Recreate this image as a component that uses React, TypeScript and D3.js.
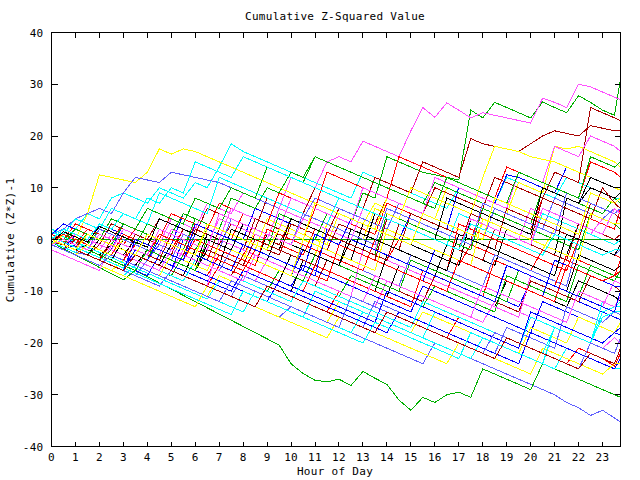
import React from "react";
import * as d3 from "d3";

// sample times (hours)
const HOURS: number[] = [...d3.range(0, 24, 0.5), 23.75];
const X_TICKS: number[] = d3.range(0, 24);
const Y_TICKS: number[] = [-40, -30, -20, -10, 0, 10, 20, 30, 40];
const TITLE = "Cumulative Z-Squared Value";
const X_LABEL = "Hour of Day";
const Y_LABEL = "Cumulative (Z*Z)-1";

// cumulative (Z*Z)-1 per run, one value per sample time
const S00 = [0.5, -0.5, 1, 0, -1, 3, 2, 1, 0, -1, -2, 2, 1, 0, -1, -2, -3, 1, 0, -1, -2, -3, 2, 1, 0, -1, -2, -3, -4, 0, -1, -2, -3, -4, -5, -1, -2, -3, -4, -5, -6, -2, -3, -4, -5, -6, -7, -8, -8.5];
const S01 = [1, 0, -1, 1, 0, -1, -2, -3, -4, 1, 0, -1, -2, 2, 1, 0, -1, -2, 4, 3, 2, 1, 0, 5, 4, 3, 9, 8, 16, 15, 14, 13, 12.5, 12, 11.5, 25, 23.5, 26.5, 25.5, 24.5, 23.5, 26.6, 25.5, 24.5, 27.8, 26.5, 25, 24, 31];
const S02 = [2, 1, 0, -1, 3, 2, 1, 0, -1, -2, -3, -4, 1, 0, -1, -2, -3, -4, -5, -6, -7, -2, -3, -4, -5, -6, -7, -8, -9, -10, -4, -5, -6, -7, -8, -9, -10, -11, -12, -13, -8, -9, -10, -11, -12, -13, -14, -15, -15.5];
const S03 = [0, 2, 1, 0, -1, 3, 2, 1, 0, -1, 4, 3, 2, 7, 6, 5, 9, 8, 7, 6, 12, 11, 10, 15, 16, 15, 19, 18, 17, 16, 21, 25.5, 23.6, 26.4, 25, 23.5, 24.5, 24, 23.5, 23, 22.5, 27.3, 26.5, 25.5, 30, 29.5, 28.5, 27.5, 27];
const S04 = [1, 3, 2, 5, 4, 8, 9, 8, 7, 10, 9, 8, 11, 10, 14, 18.5, 17, 16, 15, 14, 13, 12, 11, 10, 9, 8, 13, 12, 11, 10, 9, 8, 7, 6, 10, 9, 8, 7, 12, 11, 10, 9, 8, 12, 11, 10, 9, 8, 8];
const S05 = [-0.5, -1, 0, -1, -2, -3, 1, 0, -1, -2, -3, 2, 1, 0, -1, 3, 2, 1, 0, -1, 4, 3, 2, 1, 6, 5, 4, 3, 8, 7, 6, 5, 10, 9, 8, 7, 6, 12, 11, 10, 9, 8, 13, 12, 11, 25.5, 24.5, 23.5, 23];
const S06 = [2, 1, 0, 5, 12.5, 12, 11.5, 11, 13, 17.5, 16.5, 17.5, 17, 16, 15, 14, 13, 12, 11, 10, 9, 8, 7, 6, 5, 4, 3, 7, 6, 5, 4, 3, 2, 1, 0, -1, 3, 2, 1, 0, -1, -2, 2, 1, 0, -1, -2, -3, -3.5];
const S07 = [0, -1, -2, -1, -2, -3, -4, -5, -2, -3, -4, -5, -6, -2, -3, -4, -5, -6, -7, -8, -3, -4, -5, -6, -7, -8, -9, -10, -11, -5, -6, -7, -8, -9, -10, -11, -12, -13, -8, -9, -10, -11, -12, -13, -8, -9, -10, -11, -12];
const S08 = [-0.5, -1.5, -2.5, -3, -4, -5, -6, -7, -8, -9, -6, -7, -8, -9, -10, -11, -12, -13, -14, -15, -13, -14, -15, -16, -17, -18, -19, -20, -21, -22, -23, -24, -20, -21, -22, -23, -24, -25, -26, -27, -28, -29, -30, -31.5, -32.5, -34, -33, -34.5, -35.3];
const S09 = [1, 0, 3, 2, 1, 0, -1, 2, 1, 0, -1, -2, 3, 2, 1, 0, 5, 4, 3, 2, 1, 0, 6, 5, 4, 3, 2, 1, 7, 6, 5, 4, 3, 2, 1, 0, 6, 5, 4, 3, 2, 8, 7, 6, 5, 4, 3, 2, 6];
const S10 = [-0.5, -1.8, -3, -4.2, -5.4, -6.6, -7.8, -6, -7.2, -8.4, -9.6, -10.8, -12, -13.2, -14.4, -15.6, -16.8, -18, -19.2, -20.4, -24, -25.9, -27.2, -27.5, -27, -28.2, -25.5, -26.8, -28, -31, -33, -30.5, -31.5, -30, -29.5, -30.5, -25, -26, -27, -28, -29, -24, -25, -26, -27, -28, -29, -30, -30.5];
const S11 = [-1, -2, 1, 0, -1, -2, 3, 2, 1, 0, -1, 5, 4, 3, 2, 1, 0, 6, 5, 4, 3, 2, 1, 0, -1, 4, 3, 2, 1, 0, 5, 4, 3, 2, 10, 9, 8, 7, 12.5, 12, 11, 10, 9, 14, 13, 12, 11, 10, 10];
const S12 = [0, -1, -2, -3, 0, -1, -2, -3, -4, -5, -6, -2, -3, -4, -5, -6, -7, -8, -4, -5, -6, -7, -8, -9, -10, -11, -12, -13, -8, -9, -10, -11, -12, -13, -14, -15, -16, -12, -13, -14, -15, -16, -17, -18, -19, -20, -21, -19, -20];
const S13 = [-1, -2, -3, -4, -5, -6, -7, -5, -6, -7, -8, -9, -10, -11, -12, -13, -14, -10, -11, -12, -13, -14, -15, -16, -17, -18, -14, -15, -16, -17, -18, -19, -20, -21, -22, -23, -19, -20, -21, -22, -23, -24, -25, -21, -22, -23, -24, -25, -25];
const S14 = [1, 2, 1, 0, -1, 3, 2, 1, 0, 4, 3, 2, 1, 6, 5, 4, 3, 2, 8, 7, 6, 5, 10, 9, 8, 7, 6, 12, 11, 10, 9, 15, 14, 13, 12, 19.5, 18.5, 18, 17.5, 17, 18.5, 20, 21, 20.5, 20, 22, 21.5, 21, 21];
const S15 = [0, -1, -2, 1, 0, -1, -2, -3, -4, 0, -1, -2, -3, 2, 1, 0, -1, -2, 4, 3, 2, 1, 0, -1, 5, 4, 3, 2, 8, 7, 6, 5, 4, 10, 9, 8, 7, 6, 5, 11, 10, 9, 18, 17.5, 18, 17, 16, 15, 14];
const S16 = [-1, 0, -1, -2, -3, -4, 0, -1, -2, -3, -4, -5, -6, -1, -2, -3, -4, -5, 1, 0, -1, -2, -3, -4, -5, 0, -1, -2, -3, -4, -5, -6, -7, -1, -2, -3, -4, -5, 2, 1, 0, -1, -2, -3, 3, 2, 1, 0, -0.5];
const S17 = [1, 2, 4, 5, 6, 5, 9, 12, 11.5, 11, 13, 12.5, 12, 11.5, 11, 10, 9, 8, 7, 6, 5, 4, 8, 7, 6, 5, 4, 3, 2, 7, 6, 5, 4, 3, 2, 1, 0, 6, 5, 4, 3, 2, 8, 7, 6, 5, 4, 6, 5];
const S18 = [0.5, -0.5, -1.5, -2.5, -3.5, -1, -2, -3, -4, -5, -6, -7, -8, -9, -5, -6, -7, -8, -9, -10, -11, -12, -13, -14, -10, -11, -12, -13, -14, -15, -16, -17, -18, -19, -15, -16, -17, -18, -19, -20, -21, -22, -23, -24, -21, -22, -23, -24.5, -22];
const S19 = [0, 1, 0, -1, 2, 1, 0, -1, 3, 2, 1, 5, 4, 3, 2, 8, 7, 6, 10, 9, 13, 12, 16, 15, 14, 13, 12, 11, 10, 9, 8, 7, 11, 10, 9, 8, 7, 6, 5, 4, 3, 10, 9, 8, 7, 6, 5, 8, 7];
const S20 = [-1, -2, -1, -2, -3, -4, -5, -3, -4, -5, -6, 0, -1, -2, -3, -4, -5, -6, -7, -8, -9, -5, -6, -7, -8, -9, -10, -11, -12, -13, -14, -9, -10, -11, -12, -13, -14, -15, -16, -17, -18, -12, -13, -14, -15, -16, -17, -18, -18.5];
const S21 = [-0.5, 1, 0, -1, -2, 1, 0, -1, -2, -3, 2, 1, 0, -1, 4, 3, 2, 1, 0, 6, 5, 4, 3, 2, 1, 0, -1, -2, 4, 3, 2, 1, 0, -1, 5, 4, 3, 2, 1, 0, 6, 5, 4, 3, 2, 1, 4, 3, 3];
const S22 = [2, 1, 4, 3, 2, 6, 5, 4, 3, 9, 8, 7, 6, 5, 12, 11, 10, 9, 8, 7, 6, 5, 4, 3, 8, 7, 6, 5, 4, 3, 2, 1, 0, -1, 5, 4, 3, 2, 1, 0, -1, 5, 4, 3, 2, 1, 0, -1, 0];
const S23 = [0, -1, -2, -3, -1, -2, -3, -4, -5, -6, -2, -3, -4, -5, -6, -7, -3, -4, -5, -6, -7, -8, -9, -4, -5, -6, -7, -8, -9, -10, -11, -12, -7, -8, -9, -10, -11, -12, -13, -14, -8, -9, -10, -11, -12, -7, -8, -9, -10];
const S24 = [-1, -2, -3, -4, -5, -6, -4, -5, -6, -7, -8, -9, -10, -11, -7, -8, -9, -10, -11, -12, -13, -14, -15, -16, -12, -13, -14, -15, -16, -17, -18, -14, -15, -16, -17, -18, -19, -20, -21, -22, -17, -18, -19, -20, -15, -16, -17, -18, -16];
const S25 = [1, 0, -1, -2, -3, -1, -2, -3, -4, -5, -6, -7, -2, -3, -4, -5, -6, -7, -8, -9, -10, -4, -5, -6, -7, -8, -9, -10, -3, -4, -5, -6, -7, -8, -9, -10, -11, -12, -5, -6, -7, -8, -9, -10, -3, -4, -5, -6, -5];
const S26 = [0, -1, -2, -3, -4, -5, -6, -7, -4, -5, -6, -7, -8, -9, -10, -11, -7, -8, -9, -10, -11, -12, -13, -14, -15, -16, -17, -12, -13, -14, -15, -16, -17, -18, -19, -20, -21, -22, -17, -18, -19, -20, -21, -13, -14, -15, -16, -14, -14.5];
const S27 = [-1, 0, -1, 2, 1, 0, 3, 2, 1, 0, 5, 4, 3, 2, 7, 6, 5, 4, 3, 9, 8, 7, 6, 13, 12, 11, 10, 9, 8, 16, 15, 14, 13, 12, 11, 10, 9, 8, 14, 13, 12, 11, 10, 9, 8, 15, 14, 13, 12];
const S28 = [0, -1, -2, -3, -4, -2, -3, -4, -5, -6, -7, -3, -4, -5, -6, -7, -8, -9, -10, -6, -7, -8, -9, -10, -11, -7, -8, -9, -10, -11, -12, -13, -9, -10, -11, -12, -13, -14, -7, -8, -9, -10, -11, -12, -5, -6, -7, -8, -6];
const S29 = [0.5, -0.5, -1.5, -2.5, -3.5, -4.5, -5.5, -2, -3, -4, -5, -6, -7, -8, -9, -10, -6, -7, -8, -9, -10, -11, -12, -13, -14, -15, -16, -17, -18, -14, -15, -16, -17, -18, -19, -20, -21, -22, -23, -24, -18, -19, -20, -21, -22, -23, -24, -25, -23];
const S30 = [0, 2, 1, 0, -1, -2, 2, 1, 0, -1, 4, 3, 2, 1, 0, 6, 5, 4, 3, 2, 8, 7, 6, 5, 4, 3, 10, 9, 8, 7, 6, 5, 12, 11, 10, 9, 8, 7, 6, 13, 12, 11, 18, 17, 16, 20, 19, 18, 17];
const S31 = [1.5, 0.5, -0.5, -1.5, -2.5, -3.5, -4.5, -5.5, -6.5, -7.5, -8.5, -9.5, -10.5, -11.5, -8, -9, -10, -11, -12, -13, -14, -15, -10, -11, -12, -13, -14, -15, -16, -17, -18, -19, -14, -15, -16, -17, -18, -19, -20, -21, -15, -16, -17, -18, -19, -20, -12, -13, -12];
const S32 = [-1, -2, 0, -1, -2, -3, -4, 1, 0, -1, -2, -3, 2, 1, 0, -1, -2, 4, 3, 2, 1, 0, -1, -2, 3, 2, 1, 0, -1, -2, 5, 4, 3, 2, 1, 0, -1, -2, 6, 5, 4, 3, 2, 1, 0, 7, 6, 5, 4];
const S33 = [-1, -2, -3, -4, -5, -6, -7, -8, -9, -10, -11, -12, -13, -9, -10, -11, -12, -13, -14, -15, -16, -17, -18, -19, -15, -16, -17, -18, -19, -20, -21, -22, -23, -24, -20, -21, -22, -23, -24, -25, -26, -21, -22, -23, -24, -25, -26, -24, -24];
const S34 = [0, -1, 1, 0, -1, -2, -3, 0, -1, -2, -3, -4, -5, 1, 0, -1, -2, -3, -4, 2, 1, 0, -1, -2, -3, -4, 3, 2, 1, 0, -1, -2, -3, -4, -5, 4, 3, 2, 1, 0, -1, -2, -3, 8, 7, 10, 9, 8, 9];
const S35 = [0, -1, -2, 1, 0, -1, -2, -3, -4, -1, -2, -3, -4, -5, -6, -2, -3, -4, -5, -6, -7, -1, -2, -3, -4, -5, -6, -7, -8, -9, -3, -4, -5, -6, -7, -8, -9, -3, -4, -5, -6, -7, -8, -9, 0, -1, -2, -3, -2];
const S36 = [-0.5, 1, 0, -1, -2, -3, -4, -1, -2, -3, -4, -5, -6, -7, -3, -4, -5, -6, -7, -8, -9, -10, -5, -6, -7, -8, -9, -10, -11, -12, -13, -6, -7, -8, -9, -10, -11, -4, -5, -6, -7, -8, -9, -3, -4, -5, -6, -7, -4];
const S37 = [1, 0, 2, 1, 0, -1, 3, 2, 1, 0, -1, -2, 4, 3, 2, 1, 0, -1, -2, 5, 4, 3, 2, 1, 0, -1, -2, -3, 5, 4, 3, 2, 1, 0, -1, -2, 6, 5, 4, 3, 2, 1, 0, -1, -2, 5, 4, 3, 2];
const S38 = [1, 0, -1, -2, -3, -4, -5, -6, -7, -3, -4, -5, -6, -7, -8, -9, -10, -11, -12, -8, -9, -10, -11, -12, -13, -14, -15, -16, -10, -11, -12, -13, -14, -15, -16, -17, -18, -19, -20, -21, -14, -15, -16, -17, -18, -19, -20, -18, -17];
const S39 = [-2, -3, -4, -5, -6, -1, -2, -3, -4, -5, -6, -7, -8, -9, 0, -1, -2, -3, -4, -5, -6, -7, -8, -9, -10, -11, -2, -3, -4, -5, -6, -7, -8, -9, -10, -11, -12, -13, -14, -15, -7, -8, -9, -10, -11, -12, -13, -8, -8.5];
const S40 = [-0.5, -1.5, -2.5, 0, -1, -2, -3, -4, -5, -6, -7, -8, -4, -5, -6, -7, -8, -9, -10, -11, -12, -8, -9, -10, -11, -12, -13, -14, -15, -16, -17, -12, -13, -14, -15, -16, -17, -18, -19, -20, -21, -22, -17, -18, -19, -20, -14, -13, -13];
const S41 = [0.5, -0.5, -1.5, 1, 0, -1, -2, -3, 1, 0, -1, -2, -3, -4, 2, 1, 0, -1, -2, -3, 3, 2, 1, 0, -1, -2, -3, -4, 4, 3, 2, 1, 0, -1, -2, 5, 4, 3, 2, 1, 0, 8, 7, 6, 5, 4, 10, 7, 6];
const S42 = [-1, 1, 0, -1, -2, -3, 0, -1, -2, -3, -4, 1, 0, -1, -2, -3, -4, 2, 1, 0, -1, -2, -3, 3, 2, 1, 0, 6, 5, 4, 10, 9, 8, 7, 6, 5, 12, 18, 17.5, 17, 16, 15.5, 15, 14, 13, 12, 11, 10, 9.5];
const S43 = [0, -1, -2, -3, 0, -1, -2, -3, -4, -5, -1, -2, -3, -4, -5, 2, 1, 0, -1, -2, 4, 3, 2, 1, 0, -1, -2, 5, 4, 3, 2, 1, 0, 8, 7, 6, 5, 4, 3, 2, 1, 10, 9, 8, 7, 12, 11, 10, 10];
const S44 = [1, 0, -1, -2, 2, 1, 0, -1, -2, -3, -4, 1, 0, -1, -2, 4, 3, 2, 1, 0, -1, 5, 4, 3, 2, 1, 0, -1, 6, 5, 4, 3, 2, 1, 0, -1, 7, 6, 5, 4, 3, 2, 1, 9, 8, 7, 6, 5, 6];
const S45 = [0, 1, 0, -1, -2, -3, 1, 0, -1, -2, -3, -4, 0, -1, -2, -3, -4, -5, 2, 1, 0, -1, -2, -3, -4, -5, -6, 0, -1, -2, -3, -4, -5, -6, 3, 2, 1, 0, -1, -2, -3, -4, -5, -6, 0, -1, -2, -3, -3.5];
const S46 = [-1, 0, -1, -2, -3, -4, -5, -6, -2, -3, -4, -5, -6, 0, -1, -2, -3, -4, -5, -6, -7, -8, -3, -4, -5, -6, -7, -8, -9, -10, -4, -5, -6, -7, -8, -9, -10, -11, -12, -6, -7, -8, -9, -10, -11, -5, -6, -7, -7.5];
const S47 = [1, 3, 2, 1, 0, -1, -2, -3, -4, 0, -1, -2, -3, -4, -5, -6, -1, -2, -3, -4, -5, -6, 1, 0, -1, -2, -3, -4, -5, -6, -7, -8, -2, -3, -4, -5, -6, -7, -8, -9, -10, -11, -4, -5, -6, -7, -8, -9, -9];
const S48 = [0, -1, 1, 0, -1, -2, -3, -4, -5, -6, -2, -3, -4, -5, -6, -7, -8, -3, -4, -5, -6, -7, -8, -9, -10, -11, -12, -7, -8, -9, -10, -11, -12, -13, -14, -15, -9, -10, -11, -12, -13, -14, -15, -16, -10, -11, -12, -13, -11];
const S49 = [0.5, -0.5, -1.5, -2.5, -3.5, -4.5, -5.5, -6.5, -7.5, -8.5, -9.5, -10.5, -11.5, -12.5, -13.5, -14.5, -10, -11, -12, -13, -14, -15, -16, -17, -18, -19, -20, -16, -17, -18, -19, -20, -21, -22, -23, -18, -19, -20, -21, -22, -23, -24, -17, -18, -19, -20, -15, -14, -14];
const S50 = [0, -1, -2, -3, -4, 0, -1, -2, -3, -4, 1, 0, -1, -2, -3, -4, -5, 0, -1, -2, -3, -4, -5, 1, 0, -1, -2, -3, -4, 3, 2, 1, 0, -1, -2, -3, -4, 2, 1, 0, -1, -2, -3, -4, 3, 2, 1, 0, 1];
const S51 = [-1, -2, -3, -1, -2, -3, -4, -5, -6, -7, -3, -4, -5, -6, -1, -2, -3, -4, -5, -6, -7, 0, -1, -2, -3, -4, -5, -6, 2, 1, 0, -1, -2, -3, -4, -5, 4, 3, 2, 1, 0, -1, -2, -3, -4, 5, 4, 3, 3];
const S52 = [-0.5, 1.5, 0.5, -0.5, 2.5, 1.5, 0.5, -0.5, -1.5, 4, 3, 2, 1, 0, -1, -2, 3, 2, 1, 0, -1, -2, -3, -4, -5, 2, 1, 0, -1, -2, -3, -4, -5, -6, 1, 0, -1, -2, -3, -4, -5, -6, -7, 1, 0, -1, -2, -3, -1];
const S53 = [-1, -2, -3, -4, -5, -3, -4, -5, -6, -7, -8, -9, -10, -11, -12, -8, -9, -10, -11, -12, -13, -14, -15, -16, -17, -11, -12, -13, -14, -15, -16, -17, -18, -19, -20, -21, -22, -18, -19, -20, -21, -22, -23, -24, -25, -20, -21, -22, -19];
const S54 = [1, 0, -1, 2, 1, 0, -1, -2, -3, 1, 0, -1, -2, -3, -4, -5, -6, -2, -3, -4, -5, -6, -7, -8, -1, -2, -3, -4, -5, -6, -7, -8, -9, -10, -4, -5, -6, -7, -8, -9, -10, -11, -12, -5, -6, -7, -8, -7, -6];
const S55 = [0, -1, 2, 1, 0, 4, 3, 2, 6, 5, 4, 3, 8, 7, 6, 10, 9, 8, 14, 13, 12, 11, 16, 15, 14, 13, 12, 11, 10, 9, 8, 7, 6, 12, 11, 10, 9, 8, 7, 13, 12, 11, 10, 9, 8, 16, 15, 14, 15];
const S56 = [0, -1, -2, -3, -4, -5, -6, 0, -1, -2, -3, -4, 3, 2, 1, 0, -1, -2, -3, -4, -5, -6, -7, 2, 1, 0, -1, -2, -3, -4, -5, -6, -7, -8, -9, -10, -11, -12, -5, -6, -7, -8, -9, -10, -11, -12, -13, -14, -10];
const S57 = [-1, 0, -1, -2, 1, 0, -1, -2, -3, 2, 1, 0, -1, -2, 5, 4, 3, 2, 1, 0, -1, 4, 3, 2, 1, 0, 6, 5, 4, 3, 2, 1, 0, -1, -2, 4, 3, 2, 1, 0, -1, 6, 5, 4, 3, 2, 1, 6, 5];
const S58 = [0, 2, 1, 0, 3, 2, 5, 4, 8, 7, 10, 9, 15, 14, 13, 12, 16, 15, 14, 13, 12, 11, 10, 9, 8, 7, 6, 5, 4, 3, 2, 1, 0, -1, -2, 3, 2, 1, 0, -1, -2, -3, 1, 0, -1, -2, -3, -2, -2];
const S59 = [0, -1, -2, -3, -4, -5, -6, -3, -4, -5, -6, -7, -8, -9, -10, -11, -12, -13, -9, -10, -11, -12, -13, -14, -15, -16, -17, -18, -14, -15, -16, -17, -18, -19, -20, -21, -22, -23, -19, -20, -21, -22, -23, -24, -25, -22, -23, -24, -21];
const S60 = [0, -1, -2, 1, 0, -1, -2, -3, 1, 0, -1, -2, -3, 3, 2, 1, 0, -1, -2, 2, 1, 0, 7, 6, 5, 4, 3, 2, 1, 0, -1, 5, 4, 3, 2, 1, 0, 8, 7, 6, 5, 4, 3, 2, 1, 9, 8, 7, 8];

const SERIES: number[][] = [
  S00, S01, S02, S03, S04, S05, S06, S07, S08, S09,
  S10, S11, S12, S13, S14, S15, S16, S17, S18, S19,
  S20, S21, S22, S23, S24, S25, S26, S27, S28, S29,
  S30, S31, S32, S33, S34, S35, S36, S37, S38, S39,
  S40, S41, S42, S43, S44, S45, S46, S47, S48, S49,
  S50, S51, S52, S53, S54, S55, S56, S57, S58, S59,
  S60,
];
const ZERO_LINE = [0, 0];

const PALETTE = ["#ff0000", "#00b000", "#0000ff", "#ff50ff", "#00ffff", "#a80000", "#ffff00", "#000000", "#6060ff"];

export default function App() {
  const W = 640;
  const H = 480;
  const x = d3.scaleLinear().domain([0, 23.75]).range([51.5, 620.5]);
  const y = d3.scaleLinear().domain([-40, 40]).range([446.5, 32.5]);
  const line = d3
    .line<number>()
    .x((_, i) => x(HOURS[i]))
    .y((d) => y(d));
  const font = "'DejaVu Sans Mono', monospace";
  const [x0, x1] = x.range();
  const [yb, yt] = y.range();
  const split = 30;

  return (
    <svg
      width={W}
      height={H}
      style={{ position: "absolute", left: 0, top: 0, background: "#fff" }}
      fontFamily={font}
      fontSize={11}
    >
      <rect x={0} y={0} width={W} height={H} fill="#fff" />
      <defs>
        <clipPath id="plot">
          <rect x={x0} y={yt} width={x1 - x0} height={yb - yt} />
        </clipPath>
      </defs>
      <g clipPath="url(#plot)" fill="none" strokeWidth={1} shapeRendering="crispEdges">
        {SERIES.slice(0, split).map((s, i) => (
          <path key={i} d={line(s) || ""} stroke={PALETTE[i % PALETTE.length]} />
        ))}
        <line x1={x(0)} x2={x(23.75)} y1={y(ZERO_LINE[0])} y2={y(ZERO_LINE[1])} stroke="#00a000" />
        {SERIES.slice(split).map((s, j) => {
          const i = j + split;
          return <path key={i} d={line(s) || ""} stroke={PALETTE[i % PALETTE.length]} />;
        })}
      </g>
      <rect x={x0} y={yt} width={x1 - x0} height={yb - yt} fill="none" stroke="#000" shapeRendering="crispEdges" />
      <g stroke="#000" shapeRendering="crispEdges">
        {X_TICKS.map((t) => {
          const px = Math.round(x(t) - 0.5) + 0.5;
          return (
            <g key={"xt" + t}>
              <line x1={px} x2={px} y1={yb} y2={yb - 5} />
              <line x1={px} x2={px} y1={yt} y2={yt + 5} />
            </g>
          );
        })}
        {Y_TICKS.map((t) => {
          const py = Math.round(y(t) - 0.5) + 0.5;
          return (
            <g key={"yt" + t}>
              <line x1={x0} x2={x0 + 6} y1={py} y2={py} />
              <line x1={x1} x2={x1 - 6} y1={py} y2={py} />
            </g>
          );
        })}
      </g>
      <g fill="#000" letterSpacing={0.3}>
        {X_TICKS.map((t) => (
          <text key={"xl" + t} x={x(t)} y={461} textAnchor="middle">
            {t}
          </text>
        ))}
        {Y_TICKS.map((t) => (
          <text key={"yl" + t} x={43.5} y={y(t) + 4} textAnchor="end">
            {t}
          </text>
        ))}
        <text x={335} y={19.5} textAnchor="middle">
          {TITLE}
        </text>
        <text x={335} y={475} textAnchor="middle">
          {X_LABEL}
        </text>
        <text transform="translate(14,240) rotate(-90)" textAnchor="middle">
          {Y_LABEL}
        </text>
      </g>
    </svg>
  );
}
